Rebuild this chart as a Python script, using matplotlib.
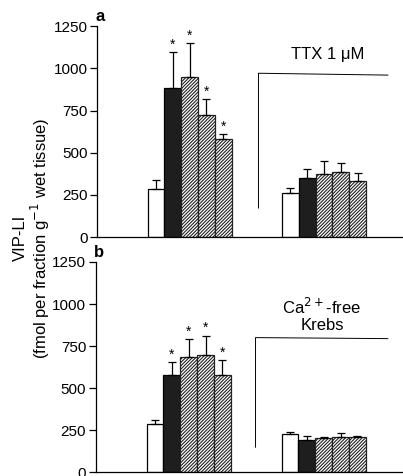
import numpy as np
import matplotlib
matplotlib.use('Agg')
from matplotlib import pyplot as plt

plt.rcParams['font.family'] = ['Liberation Sans', 'DejaVu Sans']
plt.rcParams['hatch.linewidth'] = 0.8

# panel a (control group, then TTX 1 uM)
a_ctrl = [284, 883, 948, 723, 581]
a_ctrl_err = [53, 213, 201, 95, 29]
a_ttx = [261, 349, 373, 385, 332]
a_ttx_err = [29, 54, 77, 53, 47]

# panel b (control group, then Ca2+-free Krebs)
b_ctrl = [284, 575, 687, 699, 575]
b_ctrl_err = [24, 77, 107, 113, 94]
b_ca = [225, 190, 201, 207, 207]
b_ca_err = [12, 23, 6, 24, 6]

yticks = [0, 250, 500, 750, 1000, 1250]
styles = ['white', 'black', 'hatch', 'hatch', 'hatch']
stars = [False, True, True, True, True]


def draw_group(ax, x0, vals, errs, star):
    for i, (v, e) in enumerate(zip(vals, errs)):
        x = x0 + i + 0.5
        if styles[i] == 'white':
            ax.bar(x, v, width=1, color='white', edgecolor='black', lw=0.9, zorder=2)
        elif styles[i] == 'black':
            ax.bar(x, v, width=1, color='#1e1e1e', edgecolor='black', lw=0.9, zorder=2)
        else:
            ax.bar(x, v, width=1, color='white', edgecolor='#222222',
                   hatch='//////////', lw=0.9, zorder=2)
        ax.errorbar(x, v, yerr=[[0], [e]], fmt='none', ecolor='black', elinewidth=0.9,
                    capsize=3, capthick=0.9, zorder=3)
        if star and stars[i]:
            ax.text(x, v + e + 2, '*', ha='center', va='bottom', fontsize=10)


def setup(ax, label):
    ax.set_xlim(0, 18.2)
    ax.set_ylim(0, 1250)
    ax.set_yticks(yticks)
    ax.tick_params(axis='y', direction='out', length=5, width=0.9, labelsize=11, pad=2)
    ax.set_xticks([])
    for s in ['top', 'right']:
        ax.spines[s].set_visible(False)
    ax.spines['left'].set_linewidth(0.9)
    ax.spines['bottom'].set_linewidth(0.9)
    ax.text(0.2, 1262, label, ha='center', va='bottom', fontsize=12, fontweight='bold')


fig = plt.figure(figsize=(4.03, 4.76), dpi=100)
ax1 = fig.add_axes([0.241, 0.502, 0.759, 0.443])
ax2 = fig.add_axes([0.238, 0.0083, 0.762, 0.4413])
for ax in (ax1, ax2):
    ax.patch.set_visible(False)

draw_group(ax1, 3, a_ctrl, a_ctrl_err, True)
draw_group(ax1, 11, a_ttx, a_ttx_err, False)
setup(ax1, 'a')
ax1.plot([9.6, 9.6, 17.3], [172, 971, 960], color='black', lw=0.7, clip_on=False)
ax1.text(13.7, 1084, 'TTX 1 \u03bcM', ha='center', va='center', fontsize=12)

draw_group(ax2, 3, b_ctrl, b_ctrl_err, True)
draw_group(ax2, 11, b_ca, b_ca_err, False)
setup(ax2, 'b')
ax2.plot([9.46, 9.46, 17.3], [148, 800, 794], color='black', lw=0.7, clip_on=False)
ax2.text(13.4, 936, 'Ca$^{2+}$-free\nKrebs', ha='center', va='center', fontsize=12,
         linespacing=1.1)

fig.text(0.05, 0.5, 'VIP-LI', rotation=90, ha='center', va='center', fontsize=12)
fig.text(0.1, 0.5, '(fmol per fraction g$^{-1}$ wet tissue)', rotation=90,
         ha='center', va='center', fontsize=12)

fig.savefig('out.png', dpi=100)
